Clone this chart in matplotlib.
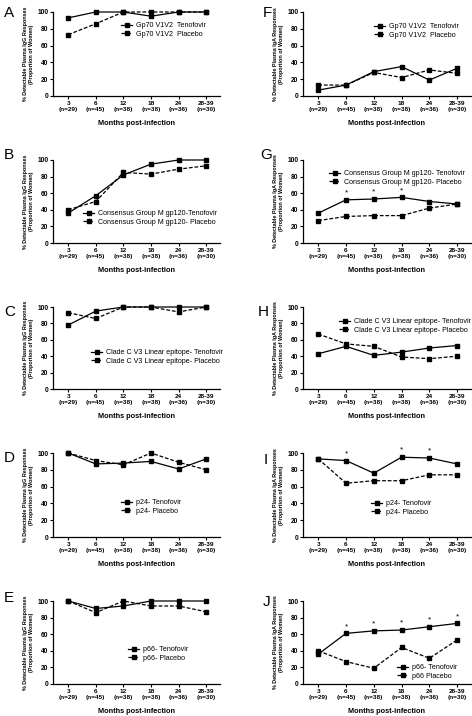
import matplotlib
matplotlib.use("Agg")
import matplotlib.pyplot as plt
from matplotlib.lines import Line2D

plt.rcParams['font.family'] = ['Liberation Sans', 'DejaVu Sans']

W, H = 472, 716
fig = plt.figure(figsize=(W/100, H/100), dpi=100)

tick_labels = ["3\n(n=29)", "6\n(n=45)", "12\n(n=38)", "18\n(n=38)", "24\n(n=36)", "28-39\n(n=30)"]

A_ten = [93, 100, 100, 95, 100, 100]
A_pla = [73, 86, 100, 100, 100, 100]
B_ten = [36, 57, 82, 95, 100, 100]
B_pla = [40, 50, 85, 83, 89, 93]
C_ten = [78, 95, 100, 100, 100, 100]
C_pla = [93, 86, 100, 100, 94, 100]
D_ten = [100, 87, 88, 90, 81, 93]
D_pla = [100, 91, 86, 100, 89, 80]
E_ten = [100, 91, 94, 100, 100, 100]
E_pla = [100, 86, 100, 94, 94, 87]
F_ten = [7, 13, 29, 35, 19, 33]
F_pla = [13, 13, 28, 22, 31, 27]
G_ten = [36, 52, 53, 55, 50, 47]
G_pla = [27, 32, 33, 33, 42, 47]
H_ten = [43, 52, 41, 45, 50, 53]
H_pla = [67, 55, 52, 39, 37, 40]
I_ten = [93, 91, 76, 95, 94, 87]
I_pla = [93, 64, 67, 67, 74, 74]
J_ten = [36, 61, 64, 65, 69, 73]
J_pla = [40, 27, 19, 44, 31, 53]

G_star = [1, 2, 3]
I_star = [1, 3, 4]
J_star = [1, 2, 3, 4, 5]

panels = [
    ("A", 0, 0, A_ten, A_pla, ["Gp70 V1V2  Tenofovir", "Gp70 V1V2  Placebo"], [], "IgG", (121, 30), (4, 13)),
    ("B", 0, 1, B_ten, B_pla, ["Consensus Group M gp120-Tenofovir", "Consensus Group M gp120- Placebo"], [], "IgG", (83, 218), (4, 155)),
    ("C", 0, 2, C_ten, C_pla, ["Clade C V3 Linear epitope- Tenofovir", "Clade C V3 Linear epitope- Placebo"], [], "IgG", (91, 357), (4, 312)),
    ("D", 0, 3, D_ten, D_pla, ["p24- Tenofovir", "p24- Placebo"], [], "IgG", (121, 507), (4, 458)),
    ("E", 0, 4, E_ten, E_pla, ["p66- Tenofovir", "p66- Placebo"], [], "IgG", (128, 654), (4, 598)),
    ("F", 1, 0, F_ten, F_pla, ["Gp70 V1V2  Tenofovir", "Gp70 V1V2  Placebo"], [], "IgA", (374, 31), (263, 13)),
    ("G", 1, 1, G_ten, G_pla, ["Consensus Group M gp120- Tenofovir", "Consensus Group M gp120- Placebo"], G_star, "IgA", (329, 178), (260, 155)),
    ("H", 1, 2, H_ten, H_pla, ["Clade C V3 Linear epitope- Tenofovir", "Clade C V3 Linear epitope- Placebo"], [], "IgA", (339, 326), (258, 312)),
    ("I", 1, 3, I_ten, I_pla, ["p24- Tenofovir", "p24- Placebo"], I_star, "IgA", (371, 508), (264, 460)),
    ("J", 1, 4, J_ten, J_pla, ["p66- Tenofovir", "p66 Placebo"], J_star, "IgA", (397, 672), (263, 602)),
]

col_x = [(53, 220), (303, 471)]
row_y = [(12, 96), (160, 243), (307, 389), (453, 537), (601, 684)]

x = list(range(len(tick_labels)))

for letter, col, row, ten, pla, labels, stars, ig, legpos, letpos in panels:
    x0, x1 = col_x[col]
    yt, yb = row_y[row]
    ax = fig.add_axes([x0/W, 1 - yb/H, (x1-x0)/W, (yb-yt)/H])
    ax.plot(x, ten, color='black', lw=0.9, ls='-', marker='s', ms=2.8, clip_on=False)
    ax.plot(x, pla, color='black', lw=0.9, ls=(0, (3, 1.5)), marker='s', ms=2.8, clip_on=False)
    for i in stars:
        ax.text(x[i], ten[i] + 4, "*", ha='center', va='bottom', fontsize=6)
    ax.set_xlim(-0.55, 5.5)
    ax.set_ylim(0, 100)
    ax.set_yticks([0, 20, 40, 60, 80, 100])
    ax.set_xticks(x)
    ax.set_xticklabels(tick_labels, fontsize=4.6, fontweight='bold', linespacing=1.3)
    for t in ax.get_yticklabels():
        t.set_fontsize(4.8)
        t.set_fontweight('bold')
    ax.spines['top'].set_visible(False)
    ax.spines['right'].set_visible(False)
    for s in ['left', 'bottom']:
        ax.spines[s].set_linewidth(0.9)
    ax.tick_params(axis='both', direction='out', length=2.2, width=0.8, pad=1.2)
    ax.set_xlabel("Months post-infection", fontsize=5.3, fontweight='bold', labelpad=6)
    ax.set_ylabel("% Detectable Plasma " + ig + " Responses\n(Proportion of Women)",
                  fontsize=3.9, fontweight='bold', labelpad=2.5, linespacing=1.1)
    handles = [Line2D([], [], color='black', lw=0.9, ls='-', marker='s', ms=2.8),
               Line2D([], [], color='black', lw=0.9, ls=(0, (3, 1.5)), marker='s', ms=2.8)]
    ax.legend(handles, labels, loc='center left',
              bbox_to_anchor=(legpos[0]/W, 1 - legpos[1]/H), bbox_transform=fig.transFigure,
              frameon=False, fontsize=5.1, handlelength=1.6, handletextpad=0.5,
              labelspacing=0.2, borderpad=0, borderaxespad=0)
    fig.text(letpos[0]/W, 1 - letpos[1]/H, letter, fontsize=11, ha='left', va='center')

fig.savefig("out.png", dpi=100)
